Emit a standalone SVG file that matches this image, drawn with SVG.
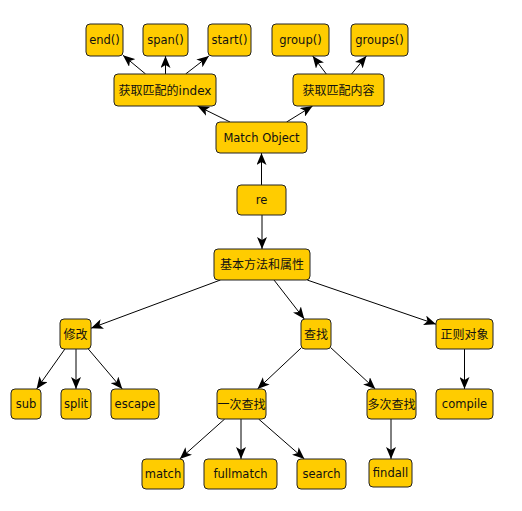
<svg xmlns="http://www.w3.org/2000/svg" width="522" height="511" viewBox="0 0 522 511">
<style>
.n rect{fill:#FFCC00;stroke:#222;stroke-width:1}
.n text{font-family:"DejaVu Sans","Noto Sans CJK SC",sans-serif;font-size:12px;fill:#111;text-anchor:middle}
.n text.l{font-size:11.5px}
.e line{stroke:#000;stroke-width:1;marker-end:url(#ah)}
</style>
<defs>
<marker id="ah" markerUnits="userSpaceOnUse" markerWidth="12" markerHeight="10" viewBox="0 0 12 10" refX="12" refY="5" orient="auto">
<path d="M0,0 L12,5 L0,10 L3,5 z" fill="#000"/>
</marker>
</defs>
<rect width="522" height="511" fill="#fff"/>
<g id="edges" class="e">
<line x1="145.6" y1="74" x2="123" y2="55.3"/>
<line x1="165.5" y1="74" x2="165.5" y2="56"/>
<line x1="185.6" y1="74" x2="208.9" y2="56"/>
<line x1="326.3" y1="74" x2="312.7" y2="56"/>
<line x1="351.6" y1="74" x2="366.4" y2="56"/>
<line x1="230" y1="122" x2="197.5" y2="106"/>
<line x1="286.6" y1="122" x2="312.6" y2="106"/>
<line x1="261.5" y1="185" x2="261.5" y2="153"/>
<line x1="262" y1="215" x2="262" y2="249"/>
<line x1="220.4" y1="280" x2="91" y2="328.2"/>
<line x1="274" y1="280" x2="304.3" y2="319"/>
<line x1="307.2" y1="280" x2="436" y2="324.2"/>
<line x1="64.9" y1="349" x2="36.6" y2="389"/>
<line x1="76" y1="349" x2="76" y2="389"/>
<line x1="88.3" y1="349" x2="122.3" y2="389"/>
<line x1="301" y1="348.1" x2="257.5" y2="389"/>
<line x1="331" y1="347.9" x2="375.3" y2="389"/>
<line x1="464.5" y1="349" x2="464.5" y2="389"/>
<line x1="391" y1="419" x2="391" y2="459"/>
<line x1="224.7" y1="419" x2="179.8" y2="459"/>
<line x1="241" y1="419" x2="241" y2="459"/>
<line x1="258.6" y1="419" x2="304.4" y2="459"/>
</g>
<g id="end" class="n"><rect x="86" y="24" width="37" height="32" rx="4"/><text class="l" x="104.5" y="44">end()</text></g>
<g id="span" class="n"><rect x="143" y="24" width="45" height="32" rx="4"/><text class="l" x="165.5" y="44">span()</text></g>
<g id="start" class="n"><rect x="208" y="24" width="43" height="32" rx="4"/><text class="l" x="229.5" y="44">start()</text></g>
<g id="group" class="n"><rect x="272" y="24" width="57" height="32" rx="4"/><text class="l" x="300.5" y="44">group()</text></g>
<g id="groups" class="n"><rect x="351" y="24" width="57" height="32" rx="4"/><text class="l" x="379.5" y="44">groups()</text></g>
<g id="get-index" class="n"><rect x="114" y="74" width="102" height="32" rx="4"/><text x="165" y="94.5">获取匹配的index</text></g>
<g id="get-content" class="n"><rect x="293" y="74" width="91" height="32" rx="4"/><text x="338.5" y="94.5">获取匹配内容</text></g>
<g id="match-object" class="n"><rect x="216" y="122" width="91" height="31" rx="4"/><text class="l" x="261.5" y="141.5">Match Object</text></g>
<g id="re" class="n"><rect x="237" y="185" width="49" height="30" rx="4"/><text class="l" x="261.5" y="204">re</text></g>
<g id="basic" class="n"><rect x="214" y="249" width="96" height="31" rx="4"/><text x="262" y="269">基本方法和属性</text></g>
<g id="modify" class="n"><rect x="60" y="319" width="31" height="30" rx="4"/><text x="75.5" y="338.5">修改</text></g>
<g id="find" class="n"><rect x="301" y="319" width="30" height="30" rx="4"/><text x="316" y="338.5">查找</text></g>
<g id="regex-object" class="n"><rect x="436" y="319" width="57" height="30" rx="4"/><text x="464.5" y="338.5">正则对象</text></g>
<g id="sub" class="n"><rect x="11" y="389" width="30" height="30" rx="4"/><text class="l" x="26" y="408">sub</text></g>
<g id="split" class="n"><rect x="61" y="389" width="30" height="30" rx="4"/><text class="l" x="76" y="408">split</text></g>
<g id="escape" class="n"><rect x="111" y="389" width="48" height="30" rx="4"/><text class="l" x="135" y="408">escape</text></g>
<g id="find-once" class="n"><rect x="217" y="389" width="49" height="30" rx="4"/><text x="241.5" y="408.5">一次查找</text></g>
<g id="find-many" class="n"><rect x="367" y="389" width="49" height="30" rx="4"/><text x="391.5" y="408.5">多次查找</text></g>
<g id="compile" class="n"><rect x="436" y="389" width="57" height="30" rx="4"/><text class="l" x="464.5" y="408">compile</text></g>
<g id="match" class="n"><rect x="142" y="459" width="42" height="30" rx="4"/><text class="l" x="163" y="478">match</text></g>
<g id="fullmatch" class="n"><rect x="204" y="459" width="73" height="30" rx="4"/><text class="l" x="240.5" y="478">fullmatch</text></g>
<g id="search" class="n"><rect x="297" y="459" width="49" height="30" rx="4"/><text class="l" x="321.5" y="478">search</text></g>
<g id="findall" class="n"><rect x="369" y="459" width="43" height="28" rx="4"/><text class="l" x="390.5" y="477">findall</text></g>
</svg>
